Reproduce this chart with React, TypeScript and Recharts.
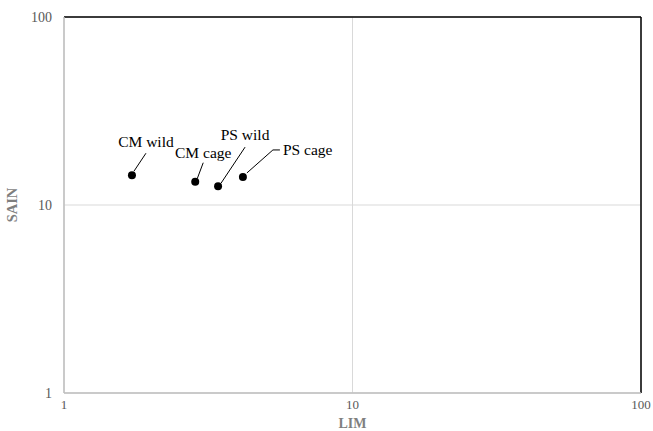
import { ScatterChart, Scatter, XAxis, YAxis, CartesianGrid, ReferenceLine } from 'recharts';

const groups = ['CM wild', 'CM cage', 'PS wild', 'PS cage'];
const limValues = [1.72, 2.85, 3.42, 4.17];
const sainValues = [14.4, 13.3, 12.6, 14.1];
const axisTicks = [1, 10, 100];

const data = groups.map((name, i) => ({ name, lim: limValues[i], sain: sainValues[i] }));

// leader line + label placement, relative to each dot
const callouts: Record<string, { line: number[][]; tx: number; ty: number; anchor: string }> = {
  'CM wild': { line: [[2, -4], [14, -22]], tx: 14, ty: -34, anchor: 'middle' },
  'CM cage': { line: [[2, -3], [8, -19]], tx: 8, ty: -29, anchor: 'middle' },
  'PS wild': { line: [[3, -3], [27, -39]], tx: 27, ty: -52, anchor: 'middle' },
  'PS cage': { line: [[4, -4], [30, -27], [37, -27]], tx: 40, ty: -27, anchor: 'start' },
};

const serif = '"Liberation Serif", "DejaVu Serif", serif';

function CalloutDot(props: any) {
  const { cx, cy, payload } = props;
  const c = callouts[payload.name];
  const pts = c.line.map(([dx, dy]) => `${cx + dx},${cy + dy}`).join(' ');
  return (
    <g>
      <circle cx={cx} cy={cy} r={4} fill="#000" />
      <polyline points={pts} fill="none" stroke="#000" strokeWidth={1} />
      <text
        x={cx + c.tx}
        y={cy + c.ty}
        textAnchor={c.anchor}
        dominantBaseline="central"
        fontFamily={serif}
        fontSize={15.5}
        fill="#000"
      >
        {payload.name}
      </text>
    </g>
  );
}

export default function App() {
  return (
    <div style={{ position: 'absolute', left: 0, top: 0, background: '#fff' }}>
      <ScatterChart width={653} height={431} margin={{ top: 17, right: 12, bottom: 0, left: 8 }}>
        <CartesianGrid stroke="#d9d9d9" />
        <XAxis
          type="number"
          dataKey="lim"
          scale="log"
          domain={[1, 100]}
          ticks={axisTicks}
          allowDataOverflow
          height={38}
          stroke="#bfbfbf"
          strokeWidth={1.5}
          tickLine={false}
          tickSize={0}
          tickMargin={7}
          tick={{ fill: '#595959', fontSize: 13, fontFamily: serif }}
          label={{ value: 'LIM', position: 'insideBottom', offset: 3, fill: '#7f7f7f', fontSize: 14, fontWeight: 'bold', fontFamily: serif }}
        />
        <YAxis
          type="number"
          dataKey="sain"
          scale="log"
          domain={[1, 100]}
          ticks={axisTicks}
          allowDataOverflow
          width={56}
          stroke="#bfbfbf"
          strokeWidth={1.5}
          tickLine={false}
          tickSize={0}
          tickMargin={12}
          tick={{ fill: '#595959', fontSize: 14, fontFamily: serif }}
          label={{ value: 'SAIN', angle: -90, position: 'insideLeft', offset: 4, fill: '#7f7f7f', fontSize: 14.5, fontWeight: 'bold', fontFamily: serif, style: { textAnchor: 'middle' } }}
        />
        <ReferenceLine y={100} stroke="#000" strokeWidth={1.5} />
        <ReferenceLine x={100} stroke="#000" strokeWidth={1.5} />
        <Scatter data={data} shape={CalloutDot} isAnimationActive={false} />
      </ScatterChart>
    </div>
  );
}
